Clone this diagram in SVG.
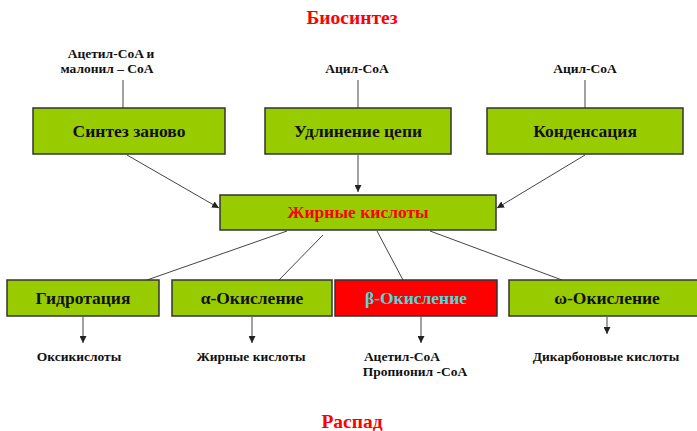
<svg xmlns="http://www.w3.org/2000/svg" width="697" height="431" viewBox="0 0 697 431">
<style>
.box{fill:#99CC00;stroke:#333;stroke-width:1.5}
.red{fill:#FF0000;stroke:#333;stroke-width:1.5}
text{font-family:"Liberation Serif","Times New Roman","DejaVu Serif",serif;font-weight:bold;text-anchor:middle}
.bt{font-size:17.5px;fill:#111}
.lb{font-size:13.5px;fill:#111}
.ttl{font-size:19.5px;fill:#FF0000}
.ln{stroke:#444;stroke-width:1;fill:none}
</style>
<defs>
<marker id="ah" viewBox="0 0 10 10" refX="10" refY="5" markerWidth="7" markerHeight="7" markerUnits="userSpaceOnUse" orient="auto">
<path d="M0,0 L10,5 L0,10 z" fill="#222"/>
</marker>
</defs>
<rect width="697" height="431" fill="#fff"/>
<text class="ttl" x="352" y="24">Биосинтез</text>
<text class="ttl" x="352" y="428">Распад</text>
<g id="connectors">
<line class="ln" x1="123" y1="80" x2="123" y2="108"/>
<line class="ln" x1="358" y1="80" x2="358" y2="108"/>
<line class="ln" x1="585" y1="80" x2="585" y2="108"/>
<line class="ln" x1="358" y1="155" x2="358" y2="192" marker-end="url(#ah)"/>
<line class="ln" x1="127" y1="155" x2="219" y2="208" marker-end="url(#ah)"/>
<line class="ln" x1="585" y1="155" x2="497" y2="208" marker-end="url(#ah)"/>
<line class="ln" x1="287" y1="231" x2="147" y2="280"/>
<line class="ln" x1="323" y1="235" x2="279" y2="280"/>
<line class="ln" x1="377" y1="231" x2="403" y2="280"/>
<line class="ln" x1="430" y1="231" x2="562" y2="280"/>
<line class="ln" x1="83" y1="317" x2="83" y2="343" marker-end="url(#ah)"/>
<line class="ln" x1="252" y1="317" x2="252" y2="343" marker-end="url(#ah)"/>
<line class="ln" x1="421" y1="317" x2="421" y2="343" marker-end="url(#ah)"/>
<line class="ln" x1="607" y1="317" x2="607" y2="334" marker-end="url(#ah)"/>
</g>
<g id="lbl-acetyl-malonyl">
<text class="lb" x="111" y="58">Ацетил-CoA и</text>
<text class="lb" x="107" y="73">малонил – CoA</text>
</g>
<g id="lbl-acyl1"><text class="lb" x="357" y="73">Ацил-CoA</text></g>
<g id="lbl-acyl2"><text class="lb" x="585" y="73">Ацил-CoA</text></g>
<g id="n-synthesis">
<rect class="box" x="33" y="108" width="192" height="46"/>
<text class="bt" x="129" y="137">Синтез заново</text>
</g>
<g id="n-elongation">
<rect class="box" x="265" y="108" width="186" height="46"/>
<text class="bt" x="358" y="137">Удлинение цепи</text>
</g>
<g id="n-condensation">
<rect class="box" x="487" y="108" width="196" height="46"/>
<text class="bt" x="585" y="137">Конденсация</text>
</g>
<g id="n-fattyacids">
<rect class="box" x="220" y="195" width="276" height="35"/>
<text class="bt" x="358" y="218" style="fill:#FF0000">Жирные кислоты</text>
</g>
<g id="n-hydration">
<rect class="box" x="7" y="280" width="152" height="36"/>
<text class="bt" x="83" y="304">Гидротация</text>
</g>
<g id="n-alpha">
<rect class="box" x="172" y="280" width="160" height="36"/>
<text class="bt" x="252" y="304">α-Окисление</text>
</g>
<g id="n-beta">
<rect class="red" x="335" y="280" width="162" height="36"/>
<text class="bt" x="416" y="304" style="fill:#44DDDD">β-Окисление</text>
</g>
<g id="n-omega">
<rect class="box" x="509" y="280" width="190" height="36"/>
<text class="bt" x="607" y="304">ω-Окисление</text>
</g>
<g id="lbl-oxy"><text class="lb" x="79" y="361">Оксикислоты</text></g>
<g id="lbl-fa"><text class="lb" x="251" y="361">Жирные кислоты</text></g>
<g id="lbl-acetyl">
<text class="lb" x="402" y="361">Ацетил-CoA</text>
<text class="lb" x="415" y="376">Пропионил -CoA</text>
</g>
<g id="lbl-dicarb"><text class="lb" x="606" y="361">Дикарбоновые кислоты</text></g>
</svg>
